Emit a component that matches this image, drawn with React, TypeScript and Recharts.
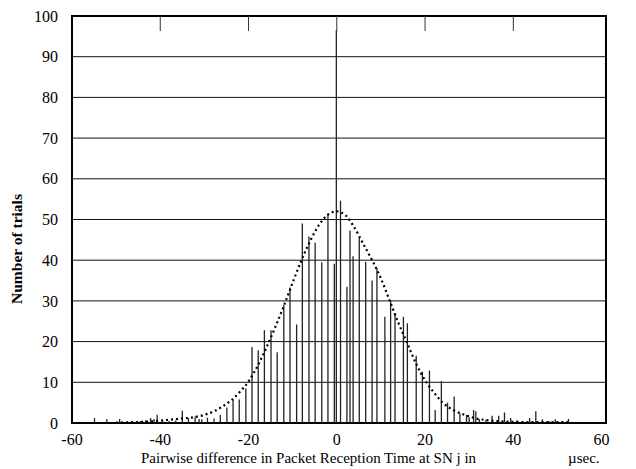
import React from "react";
import {
  ComposedChart,
  Bar,
  Line,
  XAxis,
  YAxis,
  CartesianGrid,
  ReferenceArea,
} from "recharts";

// Histogram bins (pairwise difference, µsec) and number of trials
const binCenters = [
  -54.9, -52.1, -49.2, -46.5, -44.5, -43.3, -42.2, -41.4, -40.7, -39.5, -38.0,
  -36.5, -35.0, -33.6, -32.1, -31.2, -30.6, -29.3, -27.8, -26.4, -24.9, -23.5,
  -22.1, -20.6, -19.2, -17.8, -16.4, -14.9, -13.5, -12.0, -10.6, -9.1, -7.8,
  -6.3, -4.9, -3.4, -2.0, -0.55, -0.1, 0.85, 2.3, 3.0, 3.7, 5.1, 6.55, 8.0, 9.1,
  10.9, 12.2, 13.2, 15.1, 16.0, 18.0, 19.4, 21.0, 22.3, 23.7, 25.1, 26.6, 27.9,
  29.4, 30.0, 31.0, 31.5, 32.3, 33.8, 35.2, 36.7, 38.0, 39.4, 40.8, 43.7, 45.1,
  46.6, 48.1, 49.5, 51.0, 52.5,
];
const binCounts = [
  1.2, 0.9, 1.0, 0.4, 0.5, 0.7, 1.2, 1.0, 2.0, 0.8, 0.5,
  0.6, 3.0, 1.2, 1.6, 1.0, 0.9, 1.3, 1.1, 2.0, 3.8, 5.7,
  5.8, 8.5, 18.7, 17.9, 22.8, 22.8, 17.4, 29.0, 33.3, 24.2, 49.0,
  45.8, 44.3, 39.5, 51.5, 39.1, 96.5, 54.6, 33.5, 47.3, 41.0, 45.6, 39.6, 35.0, 38.0,
  26.1, 30.0, 27.0, 26.1, 24.5, 16.5, 12.6, 12.9, 3.2, 10.3, 5.0, 6.5, 2.4,
  2.0, 1.4, 3.2, 2.9, 1.0, 0.8, 1.8, 1.8, 2.6, 1.2, 0.6, 1.2, 2.9,
  0.9, 0.5, 0.9, 0.4, 1.0,
];

// Fitted distribution (dotted curve)
const curveX = [
  -50, -46, -42, -40, -36, -32, -30, -28, -26, -24, -22, -20, -18, -16, -14, -12,
  -10, -8, -6, -4, -2, 0, 2, 4, 6, 8, 10, 12, 14, 16, 18, 20, 22, 24, 26, 28, 30,
  32, 34, 36, 40, 44, 48, 53,
];
const curveY = [
  0.1, 0.2, 0.4, 0.6, 1.0, 1.5, 2.0, 2.8, 4.0, 5.5, 7.6, 10.2, 13.9, 18.4, 23.4,
  28.8, 34.5, 40.0, 44.8, 48.7, 51.2, 52.0, 51.0, 48.0, 44.0, 40.0, 35.5, 30.0,
  24.5, 19.5, 14.5, 10.5, 7.5, 5.0, 3.4, 2.4, 1.6, 1.0, 0.7, 0.5, 0.3, 0.2, 0.2,
  0.2,
];

const xTicks = [-60, -40, -20, 0, 20, 40, 60];
const topTicks = [-40, -20, 0, 20, 40];
const yTicks = [0, 10, 20, 30, 40, 50, 60, 70, 80, 90, 100];

const xLabelMain = "Pairwise difference in Packet Reception Time at SN j in";
const xLabelUnit = "\u00b5sec.";
const yLabel = "Number of trials";

const barData = binCenters.map((x, i) => ({ x, count: binCounts[i] }));
const curveData = curveX.map((x, i) => ({ x, fit: curveY[i] }));

const FONT = "Liberation Serif, Times New Roman, serif";

const XLabel = (props: any) => {
  const vb = props.viewBox || {};
  return (
    <g>
      <text
        x={vb.x + 69}
        y={vb.y + 40}
        style={{ fontFamily: FONT }}
        fontSize={15}
        fill="#000"
        textAnchor="start"
      >
        {xLabelMain}
      </text>
      <text
        x={vb.x + 496}
        y={vb.y + 40}
        style={{ fontFamily: FONT }}
        fontSize={15}
        fill="#000"
        textAnchor="start"
      >
        {xLabelUnit}
      </text>
    </g>
  );
};

const YLabel = (props: any) => {
  const vb = props.viewBox || {};
  const cx = 16;
  const cy = vb.y + 233;
  return (
    <text
      x={cx}
      y={cy}
      transform={`rotate(-90 ${cx} ${cy})`}
      style={{ fontFamily: FONT }}
      fontSize={15.5}
      fontWeight="bold"
      fill="#000"
      textAnchor="middle"
      dominantBaseline="central"
    >
      {yLabel}
    </text>
  );
};

const tickStyle = { fontFamily: FONT, fontSize: 16, fill: "#000", style: { fontFamily: FONT } };

const ThinBar = (props: any) => {
  const { x, y, width, height } = props;
  if (height == null || height <= 0) return null;
  const cx = x + width / 2;
  return (
    <line
      x1={cx}
      x2={cx}
      y1={y}
      y2={y + height}
      stroke="#222"
      strokeWidth={1.3}
    />
  );
};

export default function App() {
  return (
    <div
      style={{
        position: "absolute",
        left: 0,
        top: 0,
        background: "#fff",
        fontFamily: FONT,
      }}
    >
      <ComposedChart
        width={636}
        height={469}
        data={barData}
        margin={{ top: 16, right: 30, left: 0, bottom: 0 }}
        style={{ fontFamily: FONT }}
      >
        <CartesianGrid
          horizontal={true}
          vertical={false}
          stroke="#111"
          strokeWidth={1}
        />
        <XAxis
          dataKey="x"
          type="number"
          domain={[-60, 61]}
          ticks={xTicks}
          allowDataOverflow
          height={46}
          tickLine={false}
          axisLine={false}
          tickSize={0}
          tickMargin={11}
          tick={tickStyle}
          interval={0}
          label={<XLabel />}
        />
        <XAxis
          xAxisId="top"
          dataKey="x"
          type="number"
          orientation="top"
          domain={[-60, 61]}
          ticks={topTicks}
          allowDataOverflow
          height={1}
          mirror
          tickSize={15}
          tickLine={{ stroke: "#333", strokeWidth: 1 }}
          axisLine={false}
          tickFormatter={() => ""}
          interval={0}
        />
        <YAxis
          type="number"
          domain={[0, 100]}
          ticks={yTicks}
          allowDataOverflow
          width={72}
          tickLine={false}
          axisLine={false}
          tickSize={0}
          tickMargin={14}
          tick={tickStyle}
          interval={0}
          label={<YLabel />}
        />
        <Bar
          dataKey="count"
          fill="#111"
          barSize={2}
          shape={<ThinBar />}
          isAnimationActive={false}
        />
        <Line
          data={curveData}
          dataKey="fit"
          type="monotone"
          stroke="#000"
          strokeWidth={2.2}
          strokeDasharray="2 3"
          dot={false}
          activeDot={false}
          isAnimationActive={false}
        />
        <ReferenceArea
          x1={-60}
          x2={61}
          y1={0}
          y2={100}
          fill="none"
          fillOpacity={0}
          stroke="#000"
          strokeWidth={2}
          ifOverflow="visible"
        />
      </ComposedChart>
    </div>
  );
}
